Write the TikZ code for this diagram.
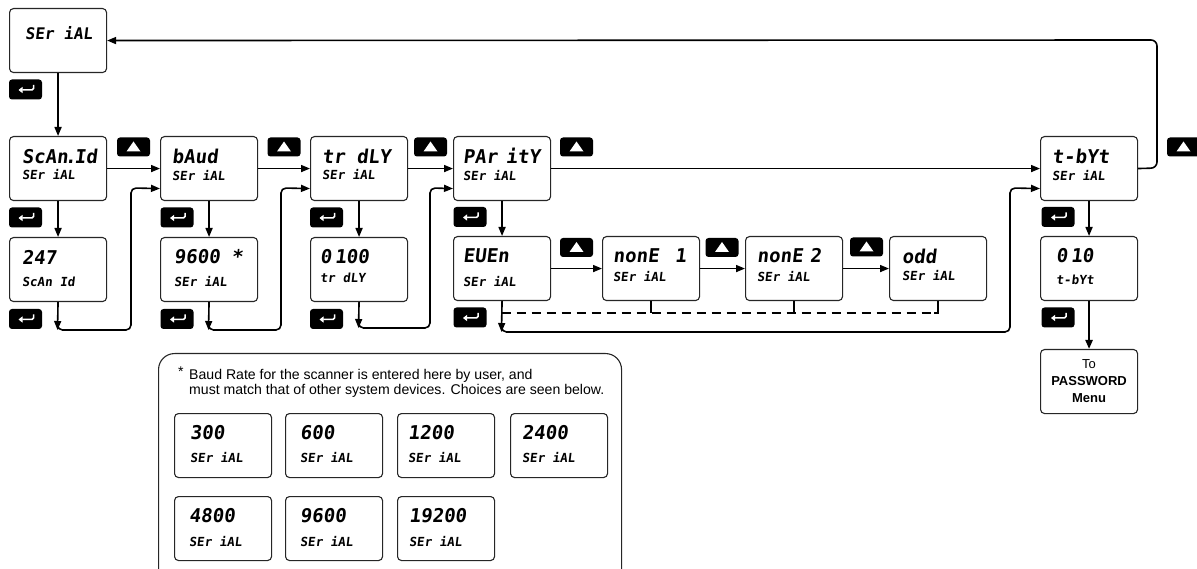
\documentclass[tikz,border=0pt]{standalone}
\usepackage{fontspec}
\newfontfamily\lcdfont{DejaVu Sans Mono}[FakeSlant=0.12]
\newfontfamily\arial{Liberation Sans}
\usetikzlibrary{arrows.meta,calc}
\tikzset{
 lcd/.style={draw=black!85, line width=1.1pt, rounded corners=4pt, minimum width=97pt, minimum height=64pt, inner sep=0pt, fill=white},
 bigtxt/.style={inner sep=0pt, font=\lcdfont\bfseries\fontsize{19}{19}\selectfont},
 smalltxt/.style={inner sep=0pt, font=\lcdfont\bfseries\fontsize{12.5}{12.5}\selectfont},
 conn/.style={line width=1.6pt, draw=black},
 flow/.style={conn, -{Triangle[length=9pt,width=7pt]}},
 dashline/.style={conn, dash pattern=on 9pt off 6pt},
 upkey/.style={fill=black, rounded corners=3pt, minimum width=33pt, minimum height=19pt, inner sep=0pt,
   path picture={\fill[white, sharp corners] ($(path picture bounding box.center)+(-7pt,-4.5pt)$) -- ++(14pt,0pt) -- ++(-7pt,10pt) -- cycle;}},
 enterkey/.style={fill=black, rounded corners=3pt, minimum width=33pt, minimum height=20pt, inner sep=0pt,
   path picture={\draw[white, line width=1.5pt, rounded corners=1.5pt, -{Triangle[length=4pt,width=6pt]}] ($(path picture bounding box.center)+(8pt,4.5pt)$) -- ++(0pt,-5pt) -- ++(-15pt,0pt);}},
 notetxt/.style={font=\arial\fontsize{14.1}{15}\selectfont, anchor=base west, inner sep=0pt},
}
\newcommand{\lcdbox}[7][12]{%
  \node[lcd, anchor=north west] (#2) at (#3,#4) {};
  \node[bigtxt, anchor=west] (#2-a) at ($(#2.north west)+(#1,20)$) {#5};
  \node[smalltxt, anchor=west] (#2-b) at ($(#2.north west)+(#1,#7)$) {#6};
}
\begin{document}
\begin{tikzpicture}[x=1pt,y=-1pt]
\useasboundingbox (0,0) rectangle (1197,569);
% top box
\node[lcd, anchor=north west] (ser) at (9,8) {};
\node[bigtxt, anchor=west, font=\lcdfont\bfseries\fontsize{16}{16}\selectfont] (ser-a) at ($(ser.north west)+(16,25)$) {SEr iAL};
% row 1
\lcdbox[13]{scan}{9}{136}{ScAn\kern-3pt.\kern-2pt Id}{SEr iAL}{39}
\lcdbox{baud}{160}{136}{bAud}{SEr iAL}{40}
\lcdbox{trdly}{310}{136}{tr dLY}{SEr iAL}{39}
\lcdbox[10]{parity}{453}{136}{PAr\kern-3pt\ itY}{SEr iAL}{40}
\lcdbox{tbyt}{1040}{136}{t-bYt}{SEr iAL}{40}
% row 2
\lcdbox[13]{id}{9}{237}{247}{ScAn Id}{45}
\lcdbox[14]{rate}{160}{237}{9600 *}{SEr iAL}{45}
\lcdbox[10]{delay}{310}{237}{0\,100}{tr dLY}{41}
\lcdbox[10]{even}{453}{236}{EUEn}{SEr iAL}{46}
\lcdbox[11]{none1}{602}{236}{nonE\hspace{16pt}1}{SEr iAL}{41}
\lcdbox{none2}{745}{236}{nonE\hspace{7pt}2}{SEr iAL}{41}
\lcdbox[13]{odd}{889}{236}{odd}{SEr iAL}{40}
\lcdbox[16]{tbval}{1040}{236}{0\,10}{t-bYt}{44}
\node[lcd, anchor=north west, align=center, font=\arial\fontsize{13}{17}\selectfont] (pw) at (1040,349) {To\\\textbf{PASSWORD}\\\textbf{Menu}};
% footnote
\node[draw=black!85, line width=1.1pt, rounded corners=16pt, minimum width=463pt, minimum height=232pt, anchor=north west, inner sep=0pt] (note) at (158,353) {};
\node[notetxt] (note-ast) at (178,377) {*};
\node[notetxt] (note-1) at (189,379) {Baud Rate for the scanner is entered here by user, and};
\node[notetxt] (note-2) at (189,394) {must match that of other system devices. Choices are seen below.};
\lcdbox[16]{b300}{174}{413}{300}{SEr iAL}{45}
\lcdbox[15]{b600}{285}{413}{600}{SEr iAL}{45}
\lcdbox[11]{b1200}{397}{413}{1200}{SEr iAL}{45}
\lcdbox[12]{b2400}{510}{413}{2400}{SEr iAL}{45}
\lcdbox[15]{b4800}{174}{496}{4800}{SEr iAL}{46}
\lcdbox[15]{b9600}{285}{496}{9600}{SEr iAL}{46}
\lcdbox[12]{b19200}{397}{496}{19200}{SEr iAL}{46}
% keys
\node[enterkey] (k0) at (25.5,89.5) {};
\node[enterkey] (k1) at (25.5,217.5) {};
\node[enterkey] (k2) at (25.5,319) {};
\node[enterkey] (k3) at (177,217.5) {};
\node[enterkey] (k4) at (177,319) {};
\node[enterkey] (k5) at (326.5,217.5) {};
\node[enterkey] (k6) at (326.5,319) {};
\node[enterkey] (k7) at (470,217) {};
\node[enterkey] (k8) at (470,317.5) {};
\node[enterkey] (k9) at (1058,217) {};
\node[enterkey] (k10) at (1058,317.5) {};
\node[upkey] (u1) at (133.5,147) {};
\node[upkey] (u2) at (284,147) {};
\node[upkey] (u3) at (430.5,147) {};
\node[upkey] (u4) at (576.5,147) {};
\node[upkey] (u5) at (1183.5,147) {};
\node[upkey] (u6) at (576.5,247.5) {};
\node[upkey] (u7) at (722,247.5) {};
\node[upkey] (u8) at (866.5,247) {};
% connectors
\draw[flow] (ser.south) -- (scan.north);
\draw[flow] (scan.east) -- (baud.west);
\draw[flow] (baud.east) -- (trdly.west);
\draw[flow] (trdly.east) -- (parity.west);
\draw[flow] (parity.east) -- (tbyt.west);
\draw[flow] (scan.south) -- (id.north);
\draw[flow] (baud.south) -- (rate.north);
\draw[flow] (trdly.south) -- (delay.north);
\draw[flow] (parity.south) -- (even.north);
\draw[flow] (tbyt.south) -- (tbval.north);
\draw[flow, line width=2.2pt] (tbval.south) -- (pw.north);
\draw[flow] (even.east) -- (none1.west);
\draw[flow] (none1.east) -- (none2.west);
\draw[flow] (none2.east) -- (odd.west);
\coordinate (j1) at (57.5,330);
\coordinate (j2) at (208.5,330);
\coordinate (j3) at (358.5,328);
\coordinate (j4) at (501.5,332);
\draw[flow] (id.south) -- (j1);
\draw[flow, rounded corners=5pt] ($(j1)+(0,-6)$) -- (j1) -- (131,330) -- (131,188) -- ([yshift=-20pt]baud.west);
\draw[flow] (rate.south) -- (j2);
\draw[flow, rounded corners=5pt] ($(j2)+(0,-6)$) -- (j2) -- (281,330) -- (281,188) -- ([yshift=-20pt]trdly.west);
\draw[flow] (delay.south) -- (j3);
\draw[flow, rounded corners=5pt] ($(j3)+(0,-6)$) -- (j3) -- (430,328) -- (430,188) -- ([yshift=-20pt]parity.west);
\draw[flow] (even.south) -- (j4);
\draw[flow, rounded corners=5pt] ($(j4)+(0,-6)$) -- (j4) -- (1010,332) -- (1010,188) -- ([yshift=-20pt]tbyt.west);
\coordinate (d0) at (501.5,313);
\draw[dashline] (d0) -- (d0 -| odd.south);
\draw[conn] (none1.south) -- (none1.south |- d0);
\draw[conn] (none2.south) -- (none2.south |- d0);
\draw[conn] (odd.south) -- (odd.south |- d0) -- ++(-4,0);
\draw[flow, rounded corners=6pt] (tbyt.east) -- (1157,168) -- (1157,40) -- (ser.east);
\end{tikzpicture}
\end{document}
